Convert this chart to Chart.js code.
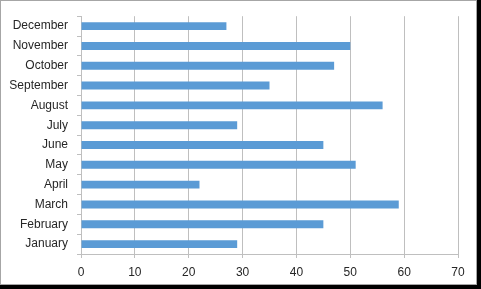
<!DOCTYPE html>
<html>
<head>
<meta charset="utf-8">
<script src="https://cdn.jsdelivr.net/npm/chart.js@4"></script>
<style>
html,body{margin:0;padding:0;background:#fff;}
#wrap{position:relative;width:481px;height:289px;box-sizing:border-box;border-right:4px solid #000;border-bottom:4px solid #000;background:#fff;}
#inner{position:absolute;left:0;top:0;width:477px;height:285px;box-sizing:border-box;border:1px solid #a6a6a6;}
canvas{position:absolute;left:0;top:0;}
</style>
</head>
<body>
<div id="wrap"><div id="inner"></div><canvas id="c" width="477" height="285"></canvas></div>
<script>
const categories = ["January","February","March","April","May","June","July","August","September","October","November","December"];
const values = [29, 45, 59, 22, 51, 45, 29, 56, 35, 47, 50, 27];
const xTicks = [0, 10, 20, 30, 40, 50, 60, 70];

const gridGray = '#bfbfbf';
const fontSpec = {family: "'Liberation Sans', Arial, sans-serif", size: 12};

new Chart(document.getElementById('c'), {
  type: 'bar',
  data: {
    labels: categories,
    datasets: [{
      data: values,
      backgroundColor: '#5b9bd5',
      borderWidth: 0,
      barPercentage: 0.4,
      categoryPercentage: 1.0
    }]
  },
  options: {
    indexAxis: 'y',
    responsive: false,
    animation: false,
    devicePixelRatio: 1,
    layout: {padding: {left: 0, top: 14, right: 19, bottom: 0}},
    plugins: {legend: {display: false}, tooltip: {enabled: false}},
    scales: {
      x: {
        min: xTicks[0],
        max: xTicks[xTicks.length - 1],
        afterBuildTicks: (axis) => { axis.ticks = xTicks.map(v => ({value: v})); },
        afterFit: (axis) => { axis.height = 31; },
        grid: {color: gridGray, lineWidth: 1, drawTicks: true, tickLength: 4, tickColor: gridGray},
        border: {display: true, color: gridGray},
        ticks: {color: '#262626', font: fontSpec, padding: 7, maxRotation: 0}
      },
      y: {
        reverse: true,
        afterFit: (axis) => { axis.width = 81; },
        grid: {offset: true, drawOnChartArea: false, drawTicks: true, tickLength: 4, color: gridGray, tickColor: gridGray},
        border: {display: true, color: gridGray},
        ticks: {color: '#262626', font: fontSpec, padding: 9, autoSkip: false}
      }
    }
  }
});
</script>
</body>
</html>
